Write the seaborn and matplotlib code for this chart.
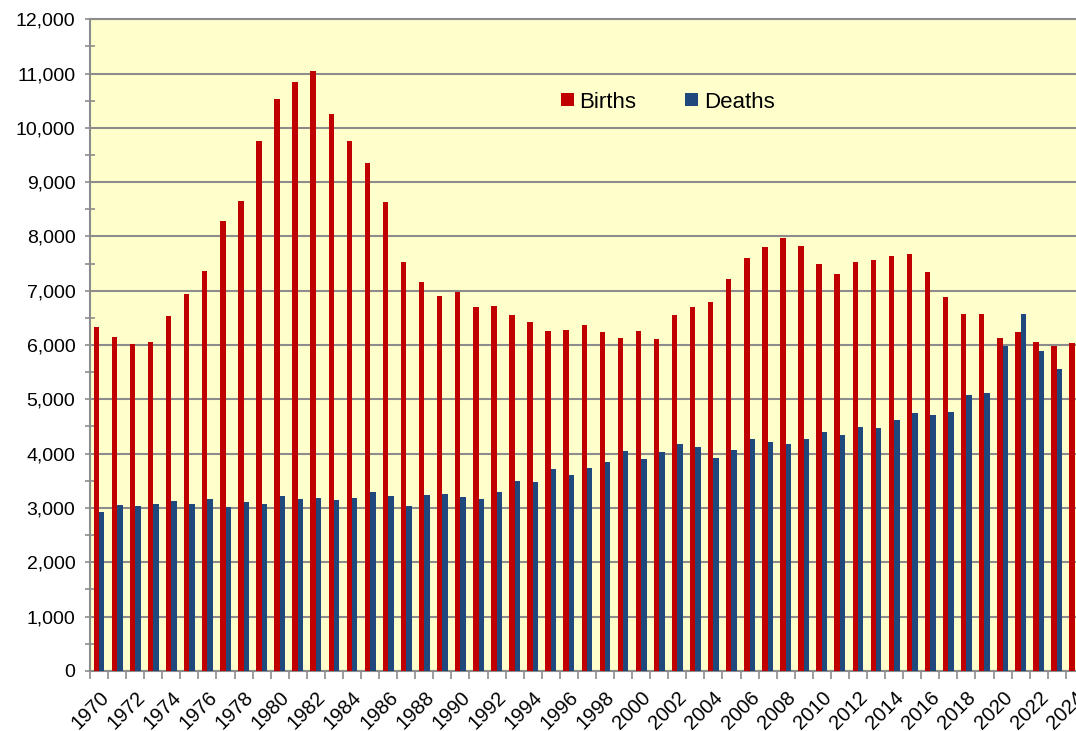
import numpy as np
import pandas as pd
import matplotlib
matplotlib.use("Agg")
import matplotlib.pyplot as plt
from matplotlib.ticker import MultipleLocator, FixedLocator, FuncFormatter
import seaborn as sns

years = list(range(1970, 2025))
births = [6332, 6153, 6013, 6061, 6534, 6939, 7363, 8278, 8646, 9762,
          10536, 10838, 11046, 10249, 9750, 9352, 8634, 7530, 7162, 6897,
          6971, 6694, 6718, 6547, 6418, 6258, 6282, 6368, 6239, 6123,
          6252, 6116, 6547, 6694, 6792, 7221, 7608, 7799, 7970, 7818,
          7486, 7302, 7523, 7571, 7634, 7682, 7344, 6884, 6565, 6565,
          6129, 6239, 6050, 5987, 6037]
deaths = [2924, 3048, 3035, 3066, 3133, 3072, 3158, 3022, 3114, 3066,
          3214, 3164, 3182, 3151, 3182, 3287, 3214, 3035, 3243, 3250,
          3195, 3158, 3293, 3490, 3477, 3722, 3606, 3740, 3845, 4042,
          3906, 4029, 4171, 4116, 3919, 4066, 4274, 4219, 4182, 4274,
          4403, 4342, 4495, 4471, 4619, 4742, 4711, 4766, 5074, 5122,
          5981, 6571, 5890, 5564, np.nan]
series_names = ["Births", "Deaths"]
colors = ["#C00000", "#1F497D"]

df = pd.concat([
    pd.DataFrame({"Year": years, "Value": births, "Series": "Births"}),
    pd.DataFrame({"Year": years, "Value": deaths, "Series": "Deaths"}),
]).dropna()
df["Year"] = df["Year"].astype(str)

plt.rcParams["font.family"] = ["Liberation Sans", "DejaVu Sans"]

fig = plt.figure(figsize=(10.76, 7.31), dpi=100)
W, H = 1076, 731
left_px, right_px, bottom_px, top_px = 90, 1076, 670.8, 19.3
ax = fig.add_axes([left_px / W, (H - bottom_px) / H,
                   (right_px - left_px) / W, (bottom_px - top_px) / H])
ax.set_facecolor("#FFFFCC")

sns.barplot(data=df, x="Year", y="Value", hue="Series",
            order=[str(y) for y in years], hue_order=series_names,
            palette=colors, width=0.6, saturation=1, ax=ax,
            edgecolor="none", linewidth=0, errorbar=None, zorder=3)

ax.set_ylim(0, 12000)
ax.set_xlim(-0.5, -0.5 + (right_px - left_px) / 18.07)

grid_c = "#8C8C8C"
ax.yaxis.set_major_locator(MultipleLocator(1000))
ax.yaxis.set_minor_locator(MultipleLocator(500))
ax.yaxis.set_major_formatter(FuncFormatter(lambda v, p: f"{int(v):,}"))
ax.grid(axis="y", which="major", color=grid_c, linewidth=1.5, zorder=1)
ax.set_axisbelow(True)
ax.tick_params(axis="y", which="both", direction="inout", length=7,
               width=1.2, color=grid_c, labelsize=14, pad=7)

# x: labels every other year at centres, tick marks at category boundaries
ax.xaxis.set_major_locator(FixedLocator(list(range(0, len(years), 2))))
ax.set_xticklabels([str(y) for y in years[::2]], rotation=45,
                   ha="right", va="top", rotation_mode="anchor", fontsize=14.5)
ax.xaxis.set_minor_locator(FixedLocator([k - 0.5 for k in range(len(years) + 1)]))
ax.tick_params(axis="x", which="major", length=0, pad=12)
ax.tick_params(axis="x", which="minor", direction="out", length=6,
               width=1.2, color=grid_c)

for s in ["top", "right"]:
    ax.spines[s].set_visible(False)
for s in ["left", "bottom"]:
    ax.spines[s].set_color(grid_c)
    ax.spines[s].set_linewidth(1.5)
ax.axhline(12000, color=grid_c, linewidth=1.5, zorder=1, clip_on=False)

ax.set_xlabel("")
ax.set_ylabel("")

handles, labels = ax.get_legend_handles_labels()
ax.legend(handles, labels, ncol=2, frameon=False, loc="center left",
          bbox_to_anchor=(0.478, 0.873), borderaxespad=0, borderpad=0,
          handlelength=0.55, handleheight=0.55, handletextpad=0.27,
          columnspacing=2.2, fontsize=16)

fig.savefig("out.png", dpi=100)
